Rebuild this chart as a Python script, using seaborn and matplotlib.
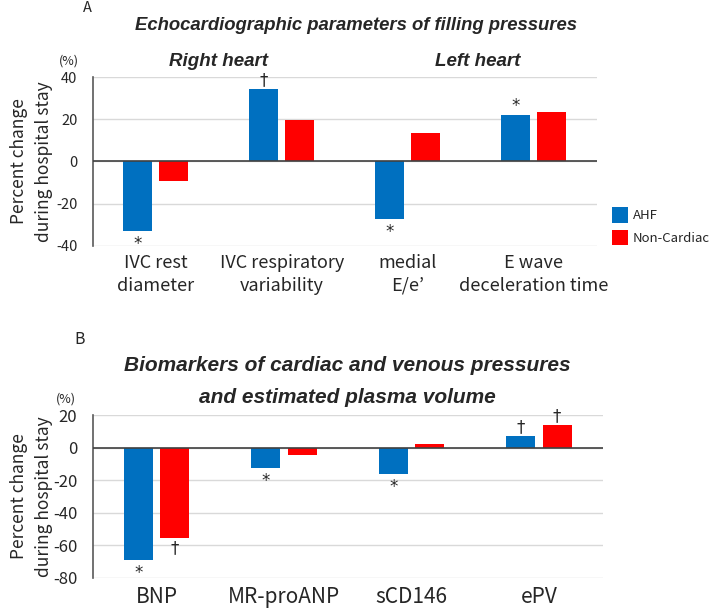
import matplotlib
matplotlib.use("Agg")
import matplotlib.pyplot as plt
from matplotlib.patches import Patch
import seaborn as sns
import pandas as pd

# ---------------- data ----------------
groups = ["AHF", "Non-Cardiac"]
colors = ["#0070C0", "#FF0000"]

cats_a = ["IVC rest\ndiameter", "IVC respiratory\nvariability", "medial\nE/e\u2019", "E wave\ndeceleration time"]
ahf_a = [-33.0, 34.4, -27.1, 22.3]
nonc_a = [-9.3, 19.5, 13.5, 23.4]
marks_a = [(0, 0, "*"), (1, 0, "\u2020"), (2, 0, "*"), (3, 0, "*")]

cats_b = ["BNP", "MR-proANP", "sCD146", "ePV"]
ahf_b = [-69.2, -12.6, -16.1, 6.9]
nonc_b = [-55.5, -4.5, 2.2, 13.9]
marks_b = [(0, 0, "*"), (0, 1, "\u2020"), (1, 0, "*"), (2, 0, "*"), (3, 0, "\u2020"), (3, 1, "\u2020")]

yticks_a = [-40, -20, 0, 20, 40]
yticks_b = [-80, -60, -40, -20, 0, 20]

title_a = "Echocardiographic parameters of filling pressures"
title_b = "Biomarkers of cardiac and venous pressures\nand estimated plasma volume"
sub_right = "Right heart"
sub_left = "Left heart"
ylab = "Percent change\nduring hospital stay"

# ---------------- style ----------------
sns.set_theme(style="white")
plt.rcParams["font.family"] = ["Noto Sans CJK JP", "DejaVu Sans"]

W, H = 709, 610
fig = plt.figure(figsize=(W / 100, H / 100), dpi=100)

def fx(px):
    return px / W

def fy(py):
    return 1 - py / H

ax_a = fig.add_axes([fx(92.7), fy(245.7), (596.7 - 92.7) / W, (245.7 - 77.3) / H])
ax_b = fig.add_axes([fx(92.7), fy(577.7), (602.7 - 92.7) / W, (577.7 - 415.0) / H])


def draw(ax, cats, ahf, nonc, yticks, marks, tick_fs, xfs, ylab_x_px, width_px):
    df = pd.DataFrame({
        "cat": cats * 2,
        "val": list(ahf) + list(nonc),
        "grp": [groups[0]] * len(cats) + [groups[1]] * len(cats),
    })
    sns.barplot(data=df, x="cat", y="val", hue="grp", order=cats, hue_order=groups,
                palette=colors, width=0.57, gap=0.2, linewidth=0, errorbar=None,
                legend=False, ax=ax, saturation=1)
    ax.set_ylim(yticks[0], yticks[-1])
    ax.set_yticks(yticks)
    ax.set_yticklabels([str(t) for t in yticks], fontsize=tick_fs)
    ax.set_xlim(-0.5, len(cats) - 0.5)
    ax.tick_params(axis="y", length=0, pad=11)
    ax.tick_params(axis="x", length=0, pad=6, labelsize=xfs)
    for lab in ax.get_xticklabels():
        lab.set_linespacing(1.35)
    ax.set_xlabel("")
    ax.grid(axis="y", color="#d9d9d9", linewidth=1)
    ax.set_axisbelow(True)
    for s in ["top", "right", "bottom"]:
        ax.spines[s].set_visible(False)
    ax.spines["left"].set_color("#595959")
    ax.spines["left"].set_linewidth(1.2)
    ax.axhline(0, color="#404040", linewidth=1.2, zorder=3)
    ax.set_ylabel(ylab, fontsize=12.5, linespacing=1.5)
    ax.yaxis.label.set_va("center")
    ax.yaxis.set_label_coords((ylab_x_px - 92.7) / width_px, 0.5)
    for ci, gi, sym in marks:
        p = ax.containers[gi][ci]
        x = p.get_x() + p.get_width() / 2
        yend = p.get_y() + p.get_height()
        if yend < 0:
            off = -1 if sym == "\u2020" else -3
            ax.annotate(sym, (x, yend), xytext=(0, off), textcoords="offset points",
                        ha="center", va="top", fontsize=12, family="DejaVu Sans")
        else:
            ax.annotate(sym, (x, yend), xytext=(0, 0), textcoords="offset points",
                        ha="center", va="bottom", fontsize=12, family="DejaVu Sans")


draw(ax_a, cats_a, ahf_a, nonc_a, yticks_a, marks_a, 10.5, 13, 31.5, 504)
draw(ax_b, cats_b, ahf_b, nonc_b, yticks_b, marks_b, 12, 15, 31.5, 510)

# titles and labels
tfont = dict(family="Liberation Sans", style="italic", weight="bold")
fig.text(fx(356), fy(25), title_a, ha="center", va="center", fontsize=13.3, **tfont)
fig.text(fx(218), fy(61), sub_right, ha="center", va="center", fontsize=13.5, **tfont)
fig.text(fx(478), fy(61), sub_left, ha="center", va="center", fontsize=13.5, **tfont)
fig.text(fx(347), fy(381.5), title_b, ha="center", va="center", fontsize=15,
         linespacing=1.9, **tfont)

fig.text(fx(87), fy(8), "A", ha="center", va="center", fontsize=10.5)
fig.text(fx(80), fy(339), "B", ha="center", va="center", fontsize=11.5)
fig.text(fx(68.5), fy(61), "(%)", ha="center", va="center", fontsize=9)
fig.text(fx(66), fy(399), "(%)", ha="center", va="center", fontsize=9)

handles = [Patch(facecolor=c, edgecolor="none") for c in colors]
fig.legend(handles, groups, loc="upper left", bbox_to_anchor=(fx(611.7), fy(207.3)),
           frameon=False, fontsize=9.5, handlelength=1.21, handleheight=1.44,
           handletextpad=0.4, labelspacing=0.53, borderpad=0, borderaxespad=0)

fig.savefig("out.png", dpi=100, facecolor="white")
